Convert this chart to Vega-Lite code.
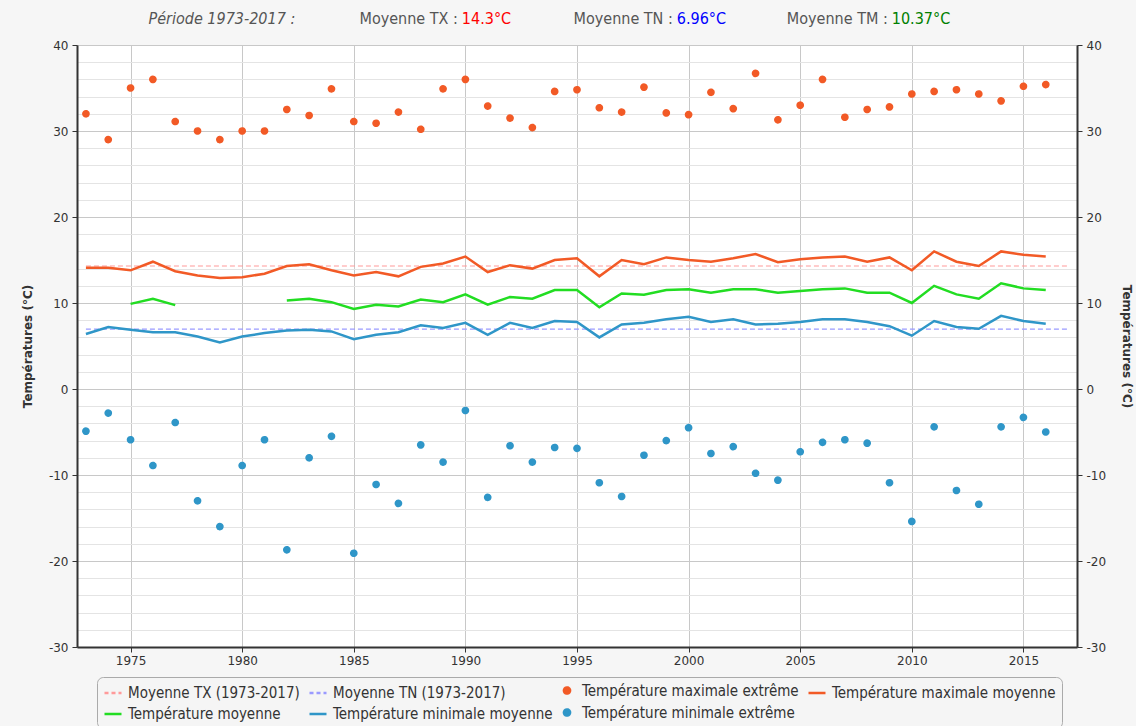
{
  "$schema": "https://vega.github.io/schema/vega-lite/v6.json",
  "background": "#f6f6f6",
  "padding": {"left": 20, "top": 9, "right": 2, "bottom": 2},
  "spacing": 9,
  "resolve": {"scale": {"x": "independent", "y": "independent", "color": "independent"}},
  "config": {
    "font": "DejaVu Sans",
    "view": {"stroke": null},
    "axis": {"labelFont": "DejaVu Sans", "labelFontSize": 12, "labelColor": "#333", "titleFont": "DejaVu Sans", "titleFontSize": 12, "titleFontWeight": "bold", "titleColor": "#333", "domainColor": "#333", "domainWidth": 2, "tickColor": "#333", "tickSize": 5},
    "legend": {"labelFont": "DejaVu Sans Condensed, Liberation Sans, sans-serif", "labelFontSize": 15, "labelColor": "#333", "labelLimit": 0, "labelOffset": 5, "symbolStrokeWidth": 2.5, "gridAlign": "none"}
  },
  "datasets": {
    "header": [
      {"item": "1", "label": "Période 1973-2017 :", "value": ""},
      {"item": "2", "label": "Moyenne TX :", "value": "14.3°C"},
      {"item": "3", "label": "Moyenne TN :", "value": "6.96°C"},
      {"item": "4", "label": "Moyenne TM :", "value": "10.37°C"}
    ],
    "means": [
      {"year": 1973, "serie": "TXavg", "value": 14.3},
      {"year": 2017, "serie": "TXavg", "value": 14.3},
      {"year": 1973, "serie": "TNavg", "value": 6.96},
      {"year": 2017, "serie": "TNavg", "value": 6.96}
    ],
    "annual": [
      {"year": 1973, "TXx": 32.0, "TXm": 14.1, "TM": null, "TNm": 6.4, "TNx": -4.9},
      {"year": 1974, "TXx": 29.0, "TXm": 14.1, "TM": null, "TNm": 7.2, "TNx": -2.8},
      {"year": 1975, "TXx": 35.0, "TXm": 13.8, "TM": 9.9, "TNm": 6.9, "TNx": -5.9},
      {"year": 1976, "TXx": 36.0, "TXm": 14.8, "TM": 10.5, "TNm": 6.6, "TNx": -8.9},
      {"year": 1977, "TXx": 31.1, "TXm": 13.7, "TM": 9.75, "TNm": 6.6, "TNx": -3.9},
      {"year": 1978, "TXx": 30.0, "TXm": 13.2, "TM": null, "TNm": 6.1, "TNx": -13.0},
      {"year": 1979, "TXx": 29.0, "TXm": 12.9, "TM": null, "TNm": 5.4, "TNx": -16.0},
      {"year": 1980, "TXx": 30.0, "TXm": 13.0, "TM": null, "TNm": 6.1, "TNx": -8.9},
      {"year": 1981, "TXx": 30.0, "TXm": 13.4, "TM": null, "TNm": 6.5, "TNx": -5.9},
      {"year": 1982, "TXx": 32.5, "TXm": 14.3, "TM": 10.3, "TNm": 6.8, "TNx": -18.7},
      {"year": 1983, "TXx": 31.8, "TXm": 14.5, "TM": 10.5, "TNm": 6.9, "TNx": -8.0},
      {"year": 1984, "TXx": 34.9, "TXm": 13.8, "TM": 10.1, "TNm": 6.7, "TNx": -5.5},
      {"year": 1985, "TXx": 31.1, "TXm": 13.2, "TM": 9.3, "TNm": 5.8, "TNx": -19.1},
      {"year": 1986, "TXx": 30.9, "TXm": 13.6, "TM": 9.8, "TNm": 6.3, "TNx": -11.1},
      {"year": 1987, "TXx": 32.2, "TXm": 13.1, "TM": 9.6, "TNm": 6.6, "TNx": -13.3},
      {"year": 1988, "TXx": 30.2, "TXm": 14.2, "TM": 10.4, "TNm": 7.4, "TNx": -6.5},
      {"year": 1989, "TXx": 34.9, "TXm": 14.6, "TM": 10.1, "TNm": 7.1, "TNx": -8.5},
      {"year": 1990, "TXx": 36.0, "TXm": 15.4, "TM": 11.0, "TNm": 7.7, "TNx": -2.5},
      {"year": 1991, "TXx": 32.9, "TXm": 13.6, "TM": 9.8, "TNm": 6.3, "TNx": -12.6},
      {"year": 1992, "TXx": 31.5, "TXm": 14.4, "TM": 10.7, "TNm": 7.7, "TNx": -6.6},
      {"year": 1993, "TXx": 30.4, "TXm": 14.0, "TM": 10.5, "TNm": 7.1, "TNx": -8.5},
      {"year": 1994, "TXx": 34.6, "TXm": 15.0, "TM": 11.5, "TNm": 7.9, "TNx": -6.8},
      {"year": 1995, "TXx": 34.8, "TXm": 15.2, "TM": 11.5, "TNm": 7.8, "TNx": -6.9},
      {"year": 1996, "TXx": 32.7, "TXm": 13.1, "TM": 9.5, "TNm": 6.0, "TNx": -10.9},
      {"year": 1997, "TXx": 32.2, "TXm": 15.0, "TM": 11.1, "TNm": 7.5, "TNx": -12.5},
      {"year": 1998, "TXx": 35.1, "TXm": 14.5, "TM": 10.95, "TNm": 7.7, "TNx": -7.7},
      {"year": 1999, "TXx": 32.1, "TXm": 15.3, "TM": 11.5, "TNm": 8.1, "TNx": -6.0},
      {"year": 2000, "TXx": 31.9, "TXm": 15.0, "TM": 11.6, "TNm": 8.4, "TNx": -4.5},
      {"year": 2001, "TXx": 34.5, "TXm": 14.8, "TM": 11.2, "TNm": 7.8, "TNx": -7.5},
      {"year": 2002, "TXx": 32.6, "TXm": 15.2, "TM": 11.6, "TNm": 8.1, "TNx": -6.7},
      {"year": 2003, "TXx": 36.7, "TXm": 15.7, "TM": 11.6, "TNm": 7.5, "TNx": -9.8},
      {"year": 2004, "TXx": 31.3, "TXm": 14.75, "TM": 11.2, "TNm": 7.6, "TNx": -10.6},
      {"year": 2005, "TXx": 33.0, "TXm": 15.1, "TM": 11.4, "TNm": 7.8, "TNx": -7.3},
      {"year": 2006, "TXx": 36.0, "TXm": 15.3, "TM": 11.6, "TNm": 8.1, "TNx": -6.2},
      {"year": 2007, "TXx": 31.6, "TXm": 15.4, "TM": 11.7, "TNm": 8.1, "TNx": -5.9},
      {"year": 2008, "TXx": 32.5, "TXm": 14.8, "TM": 11.2, "TNm": 7.8, "TNx": -6.3},
      {"year": 2009, "TXx": 32.8, "TXm": 15.3, "TM": 11.2, "TNm": 7.3, "TNx": -10.9},
      {"year": 2010, "TXx": 34.3, "TXm": 13.8, "TM": 10.0, "TNm": 6.2, "TNx": -15.4},
      {"year": 2011, "TXx": 34.6, "TXm": 16.0, "TM": 12.0, "TNm": 7.9, "TNx": -4.4},
      {"year": 2012, "TXx": 34.8, "TXm": 14.8, "TM": 11.0, "TNm": 7.2, "TNx": -11.8},
      {"year": 2013, "TXx": 34.3, "TXm": 14.3, "TM": 10.5, "TNm": 7.0, "TNx": -13.4},
      {"year": 2014, "TXx": 33.5, "TXm": 16.0, "TM": 12.3, "TNm": 8.5, "TNx": -4.4},
      {"year": 2015, "TXx": 35.2, "TXm": 15.6, "TM": 11.7, "TNm": 7.9, "TNx": -3.3},
      {"year": 2016, "TXx": 35.4, "TXm": 15.4, "TM": 11.5, "TNm": 7.6, "TNx": -5.0}
    ]
  },
  "vconcat": [
    {
      "width": 1000,
      "height": 20,
      "data": {"name": "header"},
      "encoding": {
        "x": {"field": "item", "type": "ordinal", "axis": null, "scale": {"type": "point", "padding": 0.826, "align": 0.408}}
      },
      "layer": [
        {
          "transform": [{"filter": "datum.item == '1'"}],
          "mark": {"type": "text", "font": "DejaVu Sans Condensed, Liberation Sans, sans-serif", "fontSize": 16, "fontStyle": "italic", "color": "#555", "align": "center", "baseline": "middle"},
          "encoding": {"text": {"field": "label"}}
        },
        {
          "transform": [{"filter": "datum.item != '1'"}],
          "mark": {"type": "text", "font": "DejaVu Sans Condensed, Liberation Sans, sans-serif", "fontSize": 16, "color": "#555", "align": "right", "baseline": "middle", "dx": 21},
          "encoding": {"text": {"field": "label"}}
        },
        {
          "transform": [{"filter": "datum.item != '1'"}],
          "mark": {"type": "text", "font": "DejaVu Sans Condensed, Liberation Sans, sans-serif", "fontSize": 16, "align": "left", "baseline": "middle", "dx": 25},
          "encoding": {
            "text": {"field": "value"},
            "color": {"field": "item", "type": "nominal", "legend": null, "scale": {"domain": ["2", "3", "4"], "range": ["#ff0000", "#0000ff", "#008000"]}}
          }
        }
      ]
    },
    {
      "width": 1000,
      "height": 602,
      "view": {"stroke": "#cccccc", "fill": "#ffffff"},
      "encoding": {
        "x": {
          "field": "year", "type": "quantitative",
          "scale": {"domain": [1972.6, 2017.4], "nice": false, "zero": false},
          "axis": {"title": null, "values": [1975, 1980, 1985, 1990, 1995, 2000, 2005, 2010, 2015], "labelExpr": "'' + datum.value", "grid": true, "gridColor": "#c8c8c8", "labelPadding": 3}
        }
      },
      "layer": [
        {
          "data": {"name": "means"},
          "mark": {"type": "line", "strokeWidth": 1.2, "strokeDash": [5, 3]},
          "encoding": {
            "y": {
              "field": "value", "type": "quantitative",
              "scale": {"domain": [-30, 40], "nice": false, "zero": false},
              "axis": {
                "orient": "left", "title": "Températures (°C)",
                "values": [-30, -28, -26, -24, -22, -20, -18, -16, -14, -12, -10, -8, -6, -4, -2, 0, 2, 4, 6, 8, 10, 12, 14, 16, 18, 20, 22, 24, 26, 28, 30, 32, 34, 36, 38, 40],
                "labelExpr": "datum.value % 10 === 0 ? '' + datum.value : ''",
                "tickOpacity": {"condition": {"test": "datum.value % 10 === 0", "value": 1}, "value": 0},
                "grid": true,
                "gridColor": {"condition": {"test": "datum.value % 10 === 0", "value": "#c8c8c8"}, "value": "#e4e4e4"},
                "labelPadding": 4, "titlePadding": 14
              }
            },
            "stroke": {"field": "serie", "type": "nominal"}
          }
        },
        {
          "data": {"name": "annual"},
          "transform": [{"fold": ["TXm", "TM", "TNm"], "as": ["serie", "value"]}],
          "mark": {"type": "line", "strokeWidth": 2.5, "invalid": "break-paths-filter-domains"},
          "encoding": {
            "y": {"field": "value", "type": "quantitative", "axis": null},
            "stroke": {"field": "serie", "type": "nominal"}
          }
        },
        {
          "data": {"name": "annual"},
          "transform": [{"fold": ["TXx", "TNx"], "as": ["serie", "value"]}],
          "mark": {"type": "point", "filled": true, "opacity": 1, "strokeWidth": 1.5},
          "encoding": {
            "y": {
              "field": "value", "type": "quantitative",
              "axis": {
                "orient": "right", "title": "Températures (°C)",
                "values": [-30, -20, -10, 0, 10, 20, 30, 40],
                "labelExpr": "'' + datum.value",
                "grid": false, "labelPadding": 4, "titlePadding": 14
              }
            },
            "stroke": {
              "field": "serie", "type": "nominal",
              "scale": {"domain": ["TXavg", "TNavg", "TXx", "TXm", "TM", "TNm", "TNx"], "range": ["#ff9a9a", "#9a9aff", "#f25a26", "#f25a26", "#22dd22", "#2f96c8", "#2f96c8"]},
              "legend": {
                "title": null, "orient": "none", "legendX": 20, "legendY": 668, "direction": "horizontal", "columns": 4, "gridAlign": "none", "columnPadding": 4, "rowPadding": 3,
                "strokeColor": "#aaaaaa", "fillColor": "#f5f5f5", "cornerRadius": 6, "padding": 6,
                "labelExpr": "datum.label == 'TXavg' ? 'Moyenne TX (1973-2017)' : datum.label == 'TNavg' ? 'Moyenne TN (1973-2017)' : datum.label == 'TXx' ? 'Température maximale extrême' : datum.label == 'TXm' ? 'Température maximale moyenne' : datum.label == 'TM' ? 'Température moyenne' : datum.label == 'TNm' ? 'Température minimale moyenne' : 'Température minimale extrême'"
              }
            },
            "fill": {
              "field": "serie", "type": "nominal",
              "scale": {"domain": ["TXavg", "TNavg", "TXx", "TXm", "TM", "TNm", "TNx"], "range": ["#ff9a9a", "#9a9aff", "#f25a26", "#f25a26", "#22dd22", "#2f96c8", "#2f96c8"]}
            },
            "shape": {
              "field": "serie", "type": "nominal",
              "scale": {"domain": ["TXavg", "TNavg", "TXx", "TXm", "TM", "TNm", "TNx"], "range": ["stroke", "stroke", "circle", "stroke", "stroke", "stroke", "circle"]}
            },
            "size": {
              "field": "serie", "type": "nominal",
              "scale": {"type": "ordinal", "domain": ["TXavg", "TNavg", "TXx", "TXm", "TM", "TNm", "TNx"], "range": [289, 289, 38, 289, 289, 289, 38]}
            },
            "strokeDash": {
              "field": "serie", "type": "nominal",
              "scale": {"domain": ["TXavg", "TNavg", "TXx", "TXm", "TM", "TNm", "TNx"], "range": [[4, 3], [4, 3], [1, 0], [1, 0], [1, 0], [1, 0], [1, 0]]}
            }
          }
        }
      ],
      "resolve": {"axis": {"y": "independent"}}
    }
  ]
}
